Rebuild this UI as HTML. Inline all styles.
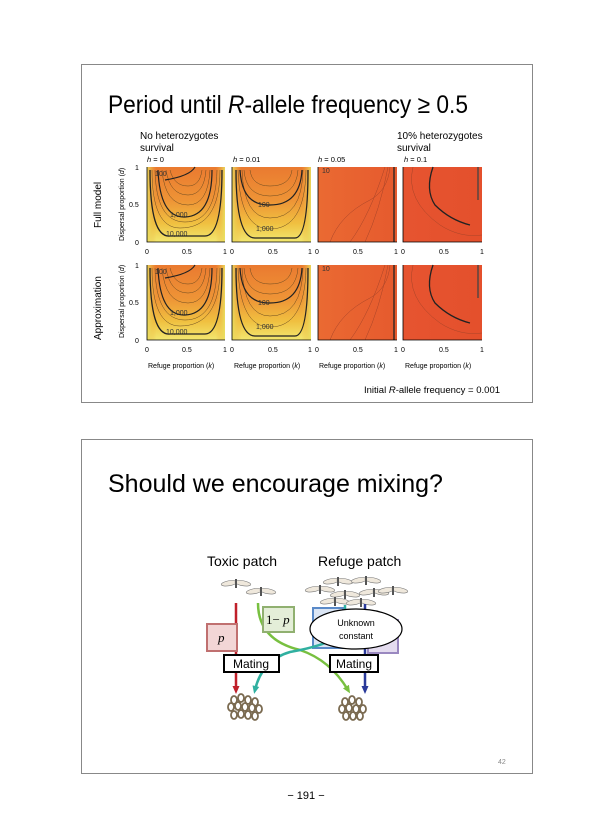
<!DOCTYPE html>
<html><head><style>
body{margin:0;background:#fff;}
svg{display:block;font-family:"Liberation Sans",sans-serif;}
</style></head><body>
<svg width="613" height="840" viewBox="0 0 613 840">
<defs>
<linearGradient id="gy" x1="0" y1="0" x2="0" y2="1">
<stop offset="0" stop-color="#ea7a30"/><stop offset="0.45" stop-color="#ee9436"/><stop offset="0.75" stop-color="#f0c040"/><stop offset="1" stop-color="#f2e870"/></linearGradient>
<linearGradient id="gx" x1="0" y1="0" x2="1" y2="0">
<stop offset="0" stop-color="#e8e060" stop-opacity="0.9"/><stop offset="0.12" stop-color="#f0b040" stop-opacity="0"/><stop offset="0.88" stop-color="#f0b040" stop-opacity="0"/><stop offset="1" stop-color="#e8e060" stop-opacity="0.9"/></linearGradient>
<linearGradient id="go" x1="0" y1="0" x2="1" y2="0">
<stop offset="0" stop-color="#ea6a32"/><stop offset="1" stop-color="#e65a2e"/></linearGradient>
<linearGradient id="gr" x1="0" y1="0" x2="1" y2="0">
<stop offset="0" stop-color="#e65430"/><stop offset="1" stop-color="#e4502c"/></linearGradient>
<marker id="ar" markerUnits="userSpaceOnUse" markerWidth="8" markerHeight="8" refX="4" refY="4" orient="auto"><path d="M0,0.5L8,4L0,7.5z" fill="context-stroke"/></marker>
<g id="m"><ellipse cx="-7" cy="0" rx="8" ry="2.5" transform="rotate(-10)" fill="#efe8dc" stroke="#777" stroke-width="0.6"/><ellipse cx="7" cy="0" rx="8" ry="2.5" transform="rotate(10)" fill="#efe8dc" stroke="#777" stroke-width="0.6"/><rect x="-1" y="-3" width="2" height="9" fill="#555"/></g>
</defs>
<rect x="81.5" y="64.5" width="451" height="338" fill="#fff" stroke="#888"/>
<text x="108" y="113" font-size="25" textLength="360" lengthAdjust="spacingAndGlyphs" fill="#000">Period until <tspan font-style="italic">R</tspan>-allele frequency ≥ 0.5</text>
<text x="140" y="139" font-size="10">No heterozygotes</text>
<text x="140" y="151" font-size="10">survival</text>
<text x="397" y="139" font-size="10">10% heterozygotes</text>
<text x="397" y="151" font-size="10">survival</text>
<g font-size="7.5">
<text x="147" y="162"><tspan font-style="italic">h</tspan> = 0</text>
<text x="233" y="162"><tspan font-style="italic">h</tspan> = 0.01</text>
<text x="318" y="162"><tspan font-style="italic">h</tspan> = 0.05</text>
<text x="404" y="162"><tspan font-style="italic">h</tspan> = 0.1</text>
</g>
<text transform="translate(101,228) rotate(-90)" font-size="10">Full model</text>
<text transform="translate(101,340) rotate(-90)" font-size="10">Approximation</text>
<text transform="translate(124,241) rotate(-90)" font-size="7">Dispersal proportion (<tspan font-style="italic">d</tspan>)</text>
<text transform="translate(124,338) rotate(-90)" font-size="7">Dispersal proportion (<tspan font-style="italic">d</tspan>)</text>
<g id="row1">
<rect x="147" y="167" width="78" height="75" fill="url(#gy)"/><rect x="147" y="167" width="78" height="75" fill="url(#gx)"/>
<g fill="none" stroke="#6a4a20" stroke-width="0.5">
<path d="M152,170 Q152,228 180,228 Q220,228 220,170"/><path d="M162,170 Q165,205 188,205 Q208,205 210,170"/>
<path d="M166,170 Q170,195 188,195 Q204,195 206,170"/><path d="M170,170 Q174,186 188,186 Q200,186 202,170"/>
<path d="M155,170 Q156,222 185,222 Q216,222 217,170"/>
</g>
<path d="M150,170 Q150,238 170,236 L205,236 Q222,236 222,170" fill="none" stroke="#222" stroke-width="1.3"/>
<path d="M158,170 Q160,218 185,217 Q212,216 212,170" fill="none" stroke="#222" stroke-width="1.2"/>
<path d="M165,180 Q190,176 195,167" fill="none" stroke="#222" stroke-width="1.2"/>
<text x="155" y="176" font-size="7" fill="#333">100</text><text x="170" y="217" font-size="7" fill="#333">1,000</text><text x="166" y="236" font-size="7" fill="#333">10,000</text>
<rect x="232" y="167" width="79" height="75" fill="url(#gy)"/><rect x="232" y="167" width="79" height="75" fill="url(#gx)"/>
<g fill="none" stroke="#6a4a20" stroke-width="0.5">
<path d="M238,170 Q240,229 270,229 Q305,229 306,170"/><path d="M244,170 Q246,196 270,196 Q296,196 298,170"/><path d="M250,170 Q252,186 270,186 Q290,186 292,170"/><path d="M242,170 Q244,218 270,218 Q302,218 303,170"/>
</g>
<path d="M236,170 Q236,238 255,238 L295,238 Q308,238 308,170" fill="none" stroke="#222" stroke-width="1.3"/>
<path d="M240,170 Q242,206 270,205 Q300,205 302,170" fill="none" stroke="#222" stroke-width="1.2"/>
<text x="258" y="207" font-size="7" fill="#333">100</text><text x="256" y="231" font-size="7" fill="#333">1,000</text>
<rect x="318" y="167" width="79" height="75" fill="url(#go)"/>
<g fill="none" stroke="#a84428" stroke-width="0.5">
<path d="M330,242 Q340,215 370,200 Q388,190 390,167"/><path d="M350,242 Q370,215 385,167"/><path d="M365,242 Q380,210 388,167"/>
</g>
<path d="M394,167 L394,242" stroke="#222" stroke-width="1.3"/>
<text x="322" y="173" font-size="7" fill="#333">10</text>
<rect x="403" y="167" width="79" height="75" fill="url(#gr)"/>
<path d="M413,167 Q405,200 440,225 Q460,238 482,235" fill="none" stroke="#a84428" stroke-width="0.5"/>
<path d="M433,167 Q425,190 435,205 Q450,220 470,225" fill="none" stroke="#222" stroke-width="1.3"/>
<path d="M478,167 L478,200" stroke="#444" stroke-width="1.3"/>
</g>
<use href="#row1" transform="translate(0,98)"/>
<g stroke="#000" stroke-width="0.8" fill="none">
<path d="M147,167V242H225M232,167V242H311M318,167V242H397M403,167V242H482"/>
<path d="M147,265V340H225M232,265V340H311M318,265V340H397M403,265V340H482"/>
</g>
<g font-size="7" fill="#000">
<text x="135" y="170">1</text><text x="129" y="207">0.5</text><text x="135" y="245">0</text>
<text x="135" y="268">1</text><text x="129" y="305">0.5</text><text x="135" y="343">0</text>
<g id="xt"><text x="145" y="254">0</text><text x="182" y="254">0.5</text><text x="223" y="254">1</text><text x="230" y="254">0</text><text x="268" y="254">0.5</text><text x="308" y="254">1</text><text x="315" y="254">0</text><text x="353" y="254">0.5</text><text x="394" y="254">1</text><text x="401" y="254">0</text><text x="439" y="254">0.5</text><text x="480" y="254">1</text></g>
<use href="#xt" transform="translate(0,98)"/>
<text x="148" y="368">Refuge proportion (<tspan font-style="italic">k</tspan>)</text>
<text x="234" y="368">Refuge proportion (<tspan font-style="italic">k</tspan>)</text>
<text x="319" y="368">Refuge proportion (<tspan font-style="italic">k</tspan>)</text>
<text x="405" y="368">Refuge proportion (<tspan font-style="italic">k</tspan>)</text>
</g>
<text x="364" y="393" font-size="9.5">Initial <tspan font-style="italic">R</tspan>-allele frequency = 0.001</text>

<rect x="81.5" y="439.5" width="451" height="334" fill="#fff" stroke="#888"/>
<text x="108" y="492" font-size="25">Should we encourage mixing?</text>
<text x="207" y="566" font-size="14">Toxic patch</text>
<text x="318" y="566" font-size="14">Refuge patch</text>
<use href="#m" transform="translate(236,582)"/><use href="#m" transform="translate(261,590)"/>
<use href="#m" transform="translate(320,588)"/><use href="#m" transform="translate(338,580)"/><use href="#m" transform="translate(366,579)"/><use href="#m" transform="translate(345,593)"/><use href="#m" transform="translate(374,591)"/><use href="#m" transform="translate(393,589)"/><use href="#m" transform="translate(335,600)"/><use href="#m" transform="translate(361,601)"/>
<rect x="313" y="608" width="30" height="40" fill="#dbe6f5" stroke="#5a8ac8" stroke-width="2"/>
<rect x="368" y="620" width="30" height="33" fill="#e4dcef" stroke="#9a88c0" stroke-width="2"/>
<g fill="none" stroke-width="2.5">
<path d="M236,603V690" stroke="#c0202a" marker-end="url(#ar)"/>
<path d="M258,603 Q258,640 300,650 Q330,660 348,690" stroke="#78c040" marker-end="url(#ar)"/>
<path d="M345,605 V632 Q330,645 290,652 Q262,660 255,690" stroke="#30b0a0" marker-end="url(#ar)"/>
<path d="M365,604V690" stroke="#2a3a9a" marker-end="url(#ar)"/>
</g>
<rect x="207" y="624" width="30" height="27" fill="#f2d6d6" stroke="#c07070" stroke-width="2"/>
<text x="218" y="642" font-size="13" font-family="Liberation Serif" font-style="italic">p</text>
<rect x="263" y="607" width="31" height="25" fill="#e4eed8" stroke="#90b070" stroke-width="2"/>
<text x="266" y="624" font-size="13" font-family="Liberation Serif">1− <tspan font-style="italic">p</tspan></text>
<ellipse cx="356" cy="629" rx="46" ry="20" fill="#fff" stroke="#000" stroke-width="1.2"/>
<text x="356" y="626" font-size="9" text-anchor="middle">Unknown</text>
<text x="356" y="639" font-size="9" text-anchor="middle">constant</text>
<rect x="224" y="655" width="55" height="17" fill="#fff" stroke="#000" stroke-width="2"/>
<text x="251" y="668" font-size="12" text-anchor="middle">Mating</text>
<rect x="330" y="655" width="48" height="17" fill="#fff" stroke="#000" stroke-width="2"/>
<text x="354" y="668" font-size="12" text-anchor="middle">Mating</text>
<g fill="#fff" stroke="#7a6a50" stroke-width="1.8">
<ellipse cx="234" cy="700" rx="3" ry="4"/><ellipse cx="241" cy="698" rx="3" ry="4"/><ellipse cx="248" cy="700" rx="3" ry="4"/><ellipse cx="255" cy="702" rx="3" ry="4"/>
<ellipse cx="231" cy="707" rx="3" ry="4"/><ellipse cx="238" cy="706" rx="3" ry="4"/><ellipse cx="245" cy="707" rx="3" ry="4"/><ellipse cx="252" cy="708" rx="3" ry="4"/><ellipse cx="259" cy="709" rx="3" ry="4"/>
<ellipse cx="234" cy="715" rx="3" ry="4"/><ellipse cx="241" cy="714" rx="3" ry="4"/><ellipse cx="248" cy="715" rx="3" ry="4"/><ellipse cx="255" cy="716" rx="3" ry="4"/>
<ellipse cx="345" cy="702" rx="3" ry="4"/><ellipse cx="352" cy="700" rx="3" ry="4"/><ellipse cx="359" cy="702" rx="3" ry="4"/>
<ellipse cx="342" cy="709" rx="3" ry="4"/><ellipse cx="349" cy="708" rx="3" ry="4"/><ellipse cx="356" cy="709" rx="3" ry="4"/><ellipse cx="363" cy="709" rx="3" ry="4"/>
<ellipse cx="346" cy="716" rx="3" ry="4"/><ellipse cx="353" cy="716" rx="3" ry="4"/><ellipse cx="360" cy="716" rx="3" ry="4"/>
</g>
<text x="498" y="764" font-size="7" fill="#888">42</text>
<text x="306" y="799" font-size="11" text-anchor="middle">− 191 −</text>
</svg>
</body></html>
